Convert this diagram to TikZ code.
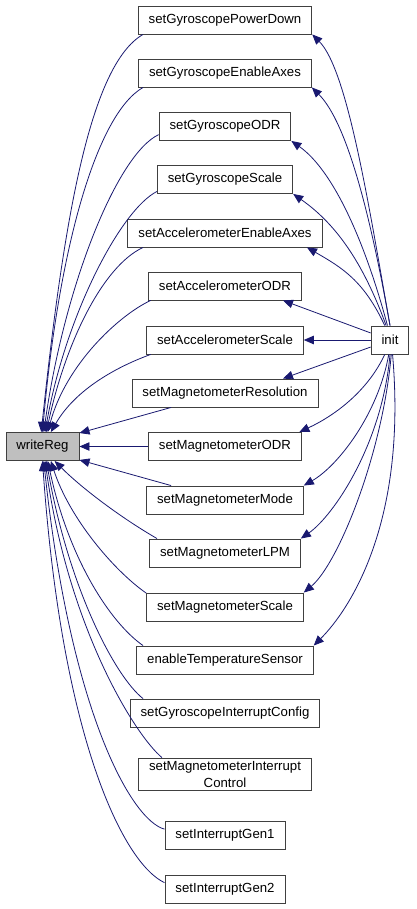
\documentclass[tikz,border=0pt]{standalone}
\usepackage{fontspec}
\setmainfont{Liberation Sans}
\usetikzlibrary{arrows.meta}
\definecolor{edgeblue}{HTML}{191970}
\definecolor{boxline}{HTML}{404040}
\begin{document}
\begin{tikzpicture}[x=1pt,y=1pt,
    fn/.style={draw=boxline, line width=0.9pt, minimum height=28pt, inner xsep=10.5pt,
      font=\fontsize{13.2}{17}\selectfont, align=center},
    call/.style={draw=edgeblue, line width=0.8pt, -{Triangle[length=10pt,width=8.5pt]}}]
  \useasboundingbox (0,0) rectangle (416,-909);
  % callers of writeReg
  \node[fn] (pd) at (225,-20) {setGyroscopePowerDown};
  \node[fn] (gea) at (225,-73) {setGyroscopeEnableAxes};
  \node[fn] (godr) at (225,-126.5) {setGyroscopeODR};
  \node[fn] (gs) at (225,-179.5) {setGyroscopeScale};
  \node[fn] (aea) at (225,-233) {setAccelerometerEnableAxes};
  \node[fn] (aodr) at (225,-286) {setAccelerometerODR};
  \node[fn] (as) at (225,-340) {setAccelerometerScale};
  \node[fn] (mres) at (225,-393) {setMagnetometerResolution};
  \node[fn] (modr) at (225,-446.5) {setMagnetometerODR};
  \node[fn] (mmode) at (225,-500) {setMagnetometerMode};
  \node[fn] (lpm) at (225,-553) {setMagnetometerLPM};
  \node[fn] (mscale) at (225,-607) {setMagnetometerScale};
  \node[fn] (ets) at (225,-660) {enableTemperatureSensor};
  \node[fn] (gic) at (225,-713) {setGyroscopeInterruptConfig};
  \node[fn] (mic) at (225,-774.5) {setMagnetometerInterrupt\\Control};
  \node[fn] (g1) at (225,-835.5) {setInterruptGen1};
  \node[fn] (g2) at (225,-889) {setInterruptGen2};
  \node[fn, fill=black!25] (wr) at (42.5,-446.5) {writeReg};
  \node[fn] (init) at (390,-340) {init};

  % edges into writeReg
  \draw[call] (pd.190) .. controls +(210:60) and +(84:220) .. (wr.95);
  \draw[call] (gea.190) .. controls +(210:55) and +(85:180) .. (wr.90);
  \draw[call] (godr.187) .. controls +(205:45) and +(82:150) .. (wr.85);
  \draw[call] (gs.190) .. controls +(207:40) and +(80:120) .. (wr.80);
  \draw[call] (aea.190) .. controls +(205:45) and +(78:90) .. (wr.75);
  \draw[call] (aodr.191) .. controls +(205:35) and +(75:70) .. (wr.70);
  \draw[call] (as.191) .. controls +(200:35) and +(60:50) .. (wr.60);
  \draw[call] (mres.195) -- (wr.20);
  \draw[call] (modr) -- (wr);
  \draw[call] (mmode.165) -- (wr.-20);
  \draw[call] (lpm.168) .. controls +(150:40) and +(-45:40) .. (wr.-50);
  \draw[call] (mscale.170) .. controls +(145:40) and +(-72:60) .. (wr.-60);
  \draw[call] (ets.170) .. controls +(145:40) and +(-78:100) .. (wr.-70);
  \draw[call] (gic.170) .. controls +(142:35) and +(-80:130) .. (wr.-75);
  \draw[call] (mic.165) .. controls +(140:35) and +(-82:170) .. (wr.-80);
  \draw[call] (g1.174) .. controls +(165:35) and +(-84:250) .. (wr.-85);
  \draw[call] (g2.174) .. controls +(155:45) and +(-86:280) .. (wr.-90);

  % edges out of init
  \draw[call] (init.north) .. controls +(100:120) and +(-45:50) .. (pd.south east);
  \draw[call] (init.north) .. controls +(100:110) and +(-45:50) .. (gea.south east);
  \draw[call] (init.100) .. controls +(105:90) and +(-35:50) .. (godr.south east);
  \draw[call] (init.105) .. controls +(110:70) and +(-35:50) .. (gs.south east);
  \draw[call] (init.110) .. controls +(115:50) and +(-30:40) .. (aea.-10);
  \draw[call] (init.160) -- (aodr.-14);
  \draw[call] (init) -- (as);
  \draw[call] (init.200) -- (mres.14);
  \draw[call] (init.250) .. controls +(-115:40) and +(25:40) .. (modr.11);
  \draw[call] (init.265) .. controls +(-100:60) and +(30:40) .. (mmode.north east);
  \draw[call] (init.270) .. controls +(-95:90) and +(35:40) .. (lpm.north east);
  \draw[call] (init.275) .. controls +(-95:100) and +(40:45) .. (mscale.north east);
  \draw[call] (init.280) .. controls +(-85:170) and +(45:50) .. (ets.north east);
\end{tikzpicture}
\end{document}
